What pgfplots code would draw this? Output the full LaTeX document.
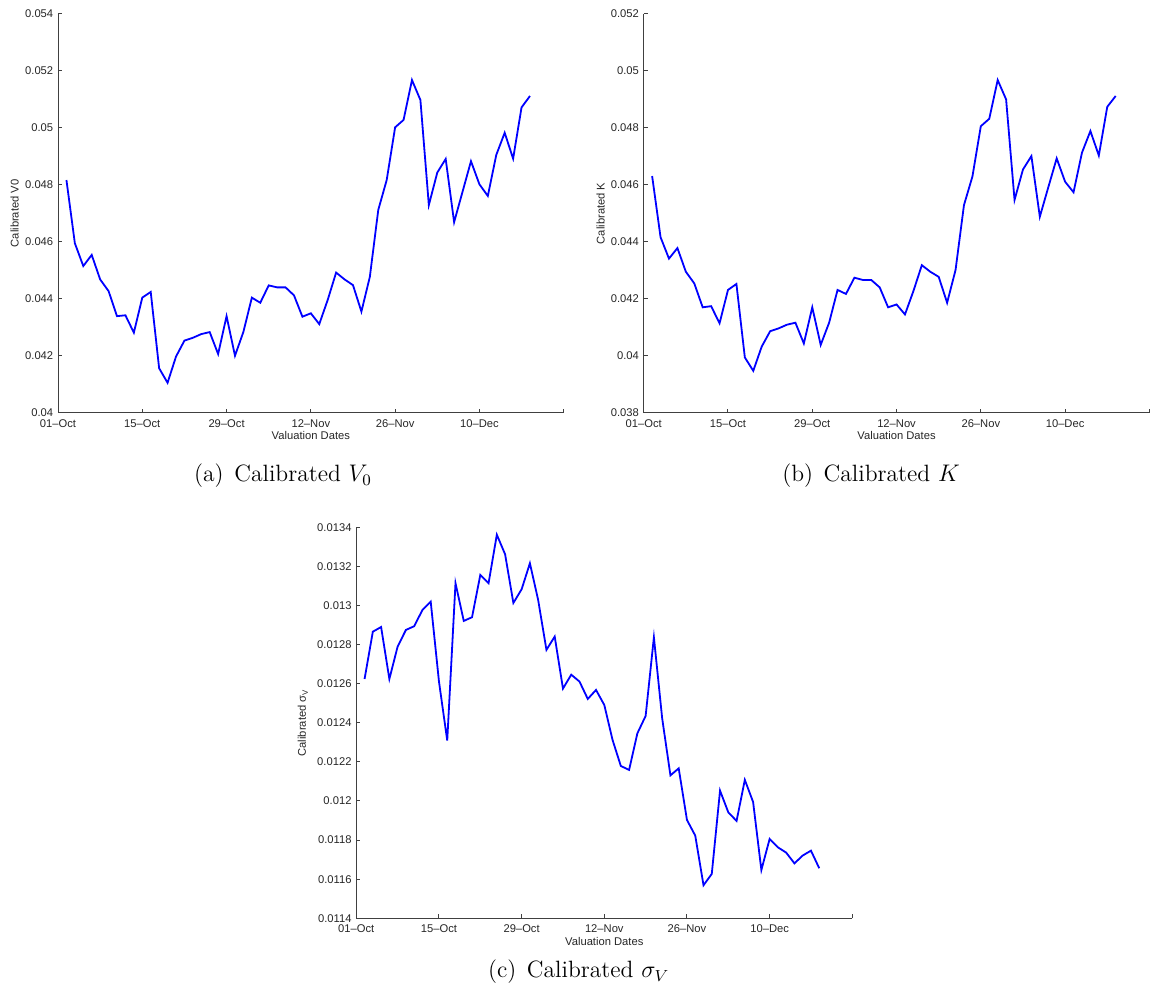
\documentclass[border=0pt]{standalone}
\usepackage{fontspec}
\usepackage{pgfplots}
\pgfplotsset{compat=1.18}
\newfontfamily\hel{Liberation Sans}
\definecolor{axgray}{RGB}{64,64,64}
\newcommand{\labfont}{\hel\fontsize{5.6}{6.5}\selectfont}
\pgfplotsset{
  myax/.style={
    scale only axis,
    axis x line=bottom, axis y line=left,
    axis line style={-, axgray, line width=0.5pt},
    tick align=inside, major tick length=2pt,
    every tick/.style={axgray, line width=0.5pt},
    xmin=0, xmax=60,
    xtick={0,10,20,30,40,50,60},
    xticklabels={01–Oct,15–Oct,29–Oct,12–Nov,26–Nov,10–Dec,{}},
    tick label style={font=\labfont, text=black!85},
    xticklabel style={anchor=center, yshift=-5.3pt},
    yticklabel style={anchor=east, inner sep=0pt, xshift=-2.2pt},
    xlabel={Valuation Dates},
    every axis x label/.style={at={([yshift=-11.65pt]axis description cs:0.5,0)}, anchor=center, font=\labfont, text=black!85},
    scaled y ticks=false,
  },
  myline/.style={blue, line width=0.9pt, mark=none, sharp plot},
}
\begin{document}
\begin{tikzpicture}
% (a)
\begin{axis}[myax, at={(29pt,290.65pt)}, anchor=south west, width=252.85pt, height=199.35pt,
  ymin=0.040, ymax=0.054,
  ytick={0.040,0.042,0.044,0.046,0.048,0.050,0.052,0.054},
  yticklabels={0.04,0.042,0.044,0.046,0.048,0.05,0.052,0.054},
  ylabel={Calibrated V0},
  every axis y label/.style={at={([xshift=-21.75pt]axis description cs:0,0.5)}, rotate=90, anchor=center, font=\labfont, text=black!85}]
\addplot[myline] coordinates {
(1,0.04817) (2,0.04595) (3,0.04515) (4,0.04554) (5,0.04468) (6,0.04427) (7,0.04339) (8,0.04342)
(9,0.04281) (10,0.04404) (11,0.04424) (12,0.04156) (13,0.04105) (14,0.04197) (15,0.04253) (16,0.04263)
(17,0.04276) (18,0.04283) (19,0.04206) (20,0.04339) (21,0.04200) (22,0.04284) (23,0.04404) (24,0.04386)
(25,0.04447) (26,0.04440) (27,0.04440) (28,0.04412) (29,0.04337) (30,0.04349) (31,0.04311) (32,0.04396)
(33,0.04492) (34,0.04468) (35,0.04448) (36,0.04355) (37,0.04477) (38,0.04712) (39,0.04817) (40,0.05002)
(41,0.05028) (42,0.05168) (43,0.05098) (44,0.04729) (45,0.04843) (46,0.04891) (47,0.04669) (48,0.04776)
(49,0.04883) (50,0.04802) (51,0.04761) (52,0.04905) (53,0.04983) (54,0.04892) (55,0.05072) (56,0.05112)
};
\end{axis}
% (b)
\begin{axis}[myax, at={(321.85pt,290.65pt)}, anchor=south west, width=252.85pt, height=199.35pt,
  ymin=0.038, ymax=0.052,
  ytick={0.038,0.040,0.042,0.044,0.046,0.048,0.050,0.052},
  yticklabels={0.038,0.04,0.042,0.044,0.046,0.048,0.05,0.052},
  ylabel={Calibrated K},
  every axis y label/.style={at={([xshift=-21.5pt]axis description cs:0,0.5)}, rotate=90, anchor=center, font=\labfont, text=black!85}]
\addplot[myline] coordinates {
(1,0.04631) (2,0.04416) (3,0.04341) (4,0.04378) (5,0.04295) (6,0.04254) (7,0.04170) (8,0.04174)
(9,0.04114) (10,0.04231) (11,0.04252) (12,0.03994) (13,0.03947) (14,0.04032) (15,0.04086) (16,0.04096)
(17,0.04109) (18,0.04116) (19,0.04043) (20,0.04170) (21,0.04038) (22,0.04116) (23,0.04231) (24,0.04217)
(25,0.04274) (26,0.04266) (27,0.04266) (28,0.04240) (29,0.04170) (30,0.04180) (31,0.04145) (32,0.04227)
(33,0.04318) (34,0.04295) (35,0.04277) (36,0.04186) (37,0.04301) (38,0.04529) (39,0.04629) (40,0.04806)
(41,0.04832) (42,0.04968) (43,0.04900) (44,0.04547) (45,0.04654) (46,0.04701) (47,0.04488) (48,0.04591)
(49,0.04693) (50,0.04611) (51,0.04574) (52,0.04713) (53,0.04789) (54,0.04703) (55,0.04874) (56,0.04912)
};
\end{axis}
% (c)
\begin{axis}[myax, at={(178.15pt,37.85pt)}, anchor=south west, width=248pt, height=195.5pt,
  ymin=0.0114, ymax=0.0134,
  ytick={0.0114,0.0116,0.0118,0.0120,0.0122,0.0124,0.0126,0.0128,0.0130,0.0132,0.0134},
  yticklabels={0.0114,0.0116,0.0118,0.012,0.0122,0.0124,0.0126,0.0128,0.013,0.0132,0.0134},
  ylabel={Calibrated σ\textsubscript{V}},
  every axis y label/.style={at={([xshift=-26.8pt]axis description cs:0,0.5)}, rotate=90, anchor=center, font=\labfont, text=black!85}]
\addplot[myline] coordinates {
(1,0.012624) (2,0.012866) (3,0.012890) (4,0.012624) (5,0.012790) (6,0.012875) (7,0.012894) (8,0.012977)
(9,0.013020) (10,0.012611) (11,0.012309) (12,0.013114) (13,0.012921) (14,0.012940) (15,0.013156) (16,0.013114)
(17,0.013362) (18,0.013262) (19,0.013013) (20,0.013083) (21,0.013216) (22,0.013028) (23,0.012773) (24,0.012841)
(25,0.012575) (26,0.012646) (27,0.012611) (28,0.012522) (29,0.012568) (30,0.012491) (31,0.012312) (32,0.012179)
(33,0.012159) (34,0.012346) (35,0.012435) (36,0.012837) (37,0.012423) (38,0.012131) (39,0.012167) (40,0.011903)
(41,0.011823) (42,0.011569) (43,0.011627) (44,0.012053) (45,0.011942) (46,0.011898) (47,0.012108) (48,0.011995)
(49,0.011647) (50,0.011806) (51,0.011763) (52,0.011736) (53,0.011681) (54,0.011721) (55,0.011746) (56,0.011656)
};
\end{axis}
% captions
\node[anchor=base, font=\fontsize{11.8}{14}\selectfont] at (141.5pt,256.15pt) {(a)\hspace{0.45em}Calibrated $V_0$};
\node[anchor=base, font=\fontsize{11.8}{14}\selectfont] at (435.5pt,256.15pt) {(b)\hspace{0.45em}Calibrated $K$};
\node[anchor=base, font=\fontsize{11.8}{14}\selectfont] at (289.35pt,8pt) {(c)\hspace{0.45em}Calibrated $\sigma_V$};
\pgfresetboundingbox
\useasboundingbox (0,0) rectangle (575.5pt,497pt);
\end{tikzpicture}
\end{document}
